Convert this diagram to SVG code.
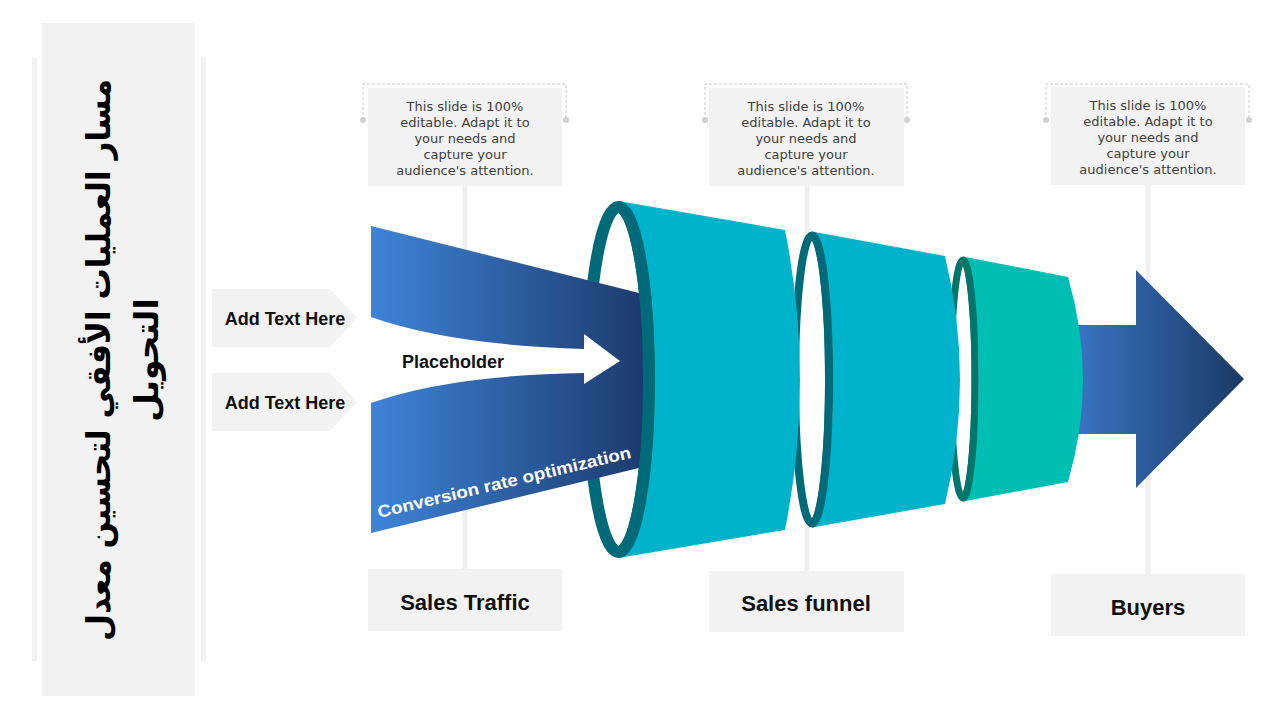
<svg xmlns="http://www.w3.org/2000/svg" width="1280" height="720" viewBox="0 0 1280 720">
  <defs>
    <linearGradient id="gBand" x1="371" y1="0" x2="643" y2="0" gradientUnits="userSpaceOnUse">
      <stop offset="0" stop-color="#3f84d8"/>
      <stop offset="1" stop-color="#1c3b6d"/>
    </linearGradient>
    <linearGradient id="gArrow" x1="1075" y1="0" x2="1244" y2="0" gradientUnits="userSpaceOnUse">
      <stop offset="0" stop-color="#3a74c2"/>
      <stop offset="1" stop-color="#1b3966"/>
    </linearGradient>
    <style>
      .panel { fill: #f2f2f2; }
      .stem { stroke: #f0f0f0; stroke-width: 5; fill: none; }
      .bracket { stroke: #c8c8c8; stroke-width: 1; stroke-dasharray: 3 2; fill: none; }
      .dot { fill: #d0d0d0; }
      .note { font-family: "DejaVu Sans", "Liberation Sans", sans-serif; font-size: 13px; fill: #404040; text-anchor: middle; }
      .label { font-family: "Liberation Sans", Arial, sans-serif; font-weight: bold; font-size: 22px; fill: #111; text-anchor: middle; }
      .tag { font-family: "Liberation Sans", Arial, sans-serif; font-weight: bold; font-size: 18px; fill: #111; text-anchor: middle; }
      .title { font-family: "DejaVu Sans", sans-serif; font-weight: bold; font-size: 33px; fill: #000; text-anchor: middle; }
      .ringA { fill: #ffffff; stroke: #006a78; stroke-width: 12; }
      .ringB { fill: #ffffff; stroke: #006a78; stroke-width: 8; }
      .ringC { fill: #ffffff; stroke: #00756a; stroke-width: 7; }
      .cyan { fill: #00b3cb; }
      .green { fill: #00bfb2; }
    </style>
  </defs>

  <g id="title-panel">
    <rect class="panel" x="32" y="58" width="5" height="603"/>
    <rect class="panel" x="201" y="58" width="5" height="603"/>
    <rect class="panel" x="42" y="23" width="153" height="673"/>
    <g transform="translate(118,360) rotate(-90)">
      <text class="title" x="0" y="-8" textLength="562" lengthAdjust="spacingAndGlyphs">مسار العمليات الأفقي لتحسين معدل</text>
      <text class="title" x="0" y="40" font-size="36">التحويل</text>
    </g>
  </g>

  <g id="connectors">
    <line class="stem" x1="465" y1="186" x2="465" y2="570"/>
    <line class="stem" x1="807" y1="186" x2="807" y2="572"/>
    <line class="stem" x1="1148" y1="185" x2="1148" y2="575"/>
    <path class="bracket" d="M363,120 V84 H566 V120"/>
    <path class="bracket" d="M705,120 V84 H907 V120"/>
    <path class="bracket" d="M1046,120 V84 H1249 V120"/>
    <circle class="dot" cx="363" cy="120" r="3"/>
    <circle class="dot" cx="566" cy="120" r="3"/>
    <circle class="dot" cx="705" cy="120" r="3"/>
    <circle class="dot" cx="907" cy="120" r="3"/>
    <circle class="dot" cx="1046" cy="120" r="3"/>
    <circle class="dot" cx="1249" cy="120" r="3"/>
  </g>

  <g id="note-1">
    <rect class="panel" x="368" y="88" width="194" height="98"/>
    <text class="note" x="465" y="111">This slide is 100%</text>
    <text class="note" x="465" y="127">editable. Adapt it to</text>
    <text class="note" x="465" y="143">your needs and</text>
    <text class="note" x="465" y="159">capture your</text>
    <text class="note" x="465" y="175">audience's attention.</text>
  </g>
  <g id="note-2">
    <rect class="panel" x="709" y="88" width="195" height="98"/>
    <text class="note" x="806" y="111">This slide is 100%</text>
    <text class="note" x="806" y="127">editable. Adapt it to</text>
    <text class="note" x="806" y="143">your needs and</text>
    <text class="note" x="806" y="159">capture your</text>
    <text class="note" x="806" y="175">audience's attention.</text>
  </g>
  <g id="note-3">
    <rect class="panel" x="1051" y="87" width="194" height="98"/>
    <text class="note" x="1148" y="110">This slide is 100%</text>
    <text class="note" x="1148" y="126">editable. Adapt it to</text>
    <text class="note" x="1148" y="142">your needs and</text>
    <text class="note" x="1148" y="158">capture your</text>
    <text class="note" x="1148" y="174">audience's attention.</text>
  </g>

  <g id="label-sales-traffic">
    <rect class="panel" x="368" y="569" width="194" height="62"/>
    <text class="label" x="465" y="610">Sales Traffic</text>
  </g>
  <g id="label-sales-funnel">
    <rect class="panel" x="709" y="571" width="195" height="61"/>
    <text class="label" x="806" y="611">Sales funnel</text>
  </g>
  <g id="label-buyers">
    <rect class="panel" x="1051" y="574" width="194" height="62"/>
    <text class="label" x="1148" y="615">Buyers</text>
  </g>

  <g id="tag-1">
    <polygon class="panel" points="212,289 330,289 357,318 330,347 212,347"/>
    <text class="tag" x="285" y="325">Add Text Here</text>
  </g>
  <g id="tag-2">
    <polygon class="panel" points="212,373 330,373 357,402 330,431 212,431"/>
    <text class="tag" x="285" y="409">Add Text Here</text>
  </g>

  <g id="buyers-arrow">
    <polygon fill="url(#gArrow)" points="1075,325 1136,325 1136,270 1244,379 1136,488 1136,434 1075,434"/>
  </g>

  <g id="funnel-ring-1">
    <ellipse class="ringA" cx="618.5" cy="379.5" rx="30.5" ry="172.5"/>
  </g>

  <g id="traffic-band">
    <polygon fill="url(#gBand)" points="371,226 643,294 643,467 371,533"/>
    <path fill="#ffffff" d="M371,317 Q450,345 584,349 L584,334 L620,361 L584,384 L584,373 Q450,375 371,403 Z"/>
    <text class="tag" x="453" y="368" font-size="19">Placeholder</text>
    <text transform="translate(379,518) rotate(-13.4)" font-family="'Liberation Sans', Arial, sans-serif" font-weight="bold" font-size="17" fill="#ffffff" textLength="260" lengthAdjust="spacingAndGlyphs">Conversion rate optimization</text>
  </g>

  <g id="funnel-ring-2">
    <ellipse class="ringB" cx="812" cy="379.5" rx="17" ry="144"/>
  </g>
  <g id="funnel-ring-3">
    <ellipse class="ringC" cx="963" cy="379" rx="12" ry="119"/>
  </g>

  <g id="funnel-body-1">
    <path class="cyan" d="M618.5,201 L785,230 Q815,380 785,530 L618.5,558 A36.5,178.5 0 0 0 618.5,201 Z"/>
    <path d="M618.5,207 A30.5,172.5 0 0 1 618.5,552" fill="none" stroke="#006a78" stroke-width="12"/>
  </g>

  <g id="funnel-body-2">
    <path class="cyan" d="M812,231.5 L945,256 Q975,380 945,504 L812,527.5 A21,148 0 0 0 812,231.5 Z"/>
    <path d="M812,235.5 A17,144 0 0 1 812,523.5" fill="none" stroke="#006a78" stroke-width="8"/>
  </g>

  <g id="funnel-body-3">
    <path class="green" d="M963,256.5 L1068,277 Q1098,380 1068,482 L963,501.5 A15.5,122.5 0 0 0 963,256.5 Z"/>
    <path d="M963,260 A12,119 0 0 1 963,498" fill="none" stroke="#00756a" stroke-width="7"/>
  </g>
</svg>
